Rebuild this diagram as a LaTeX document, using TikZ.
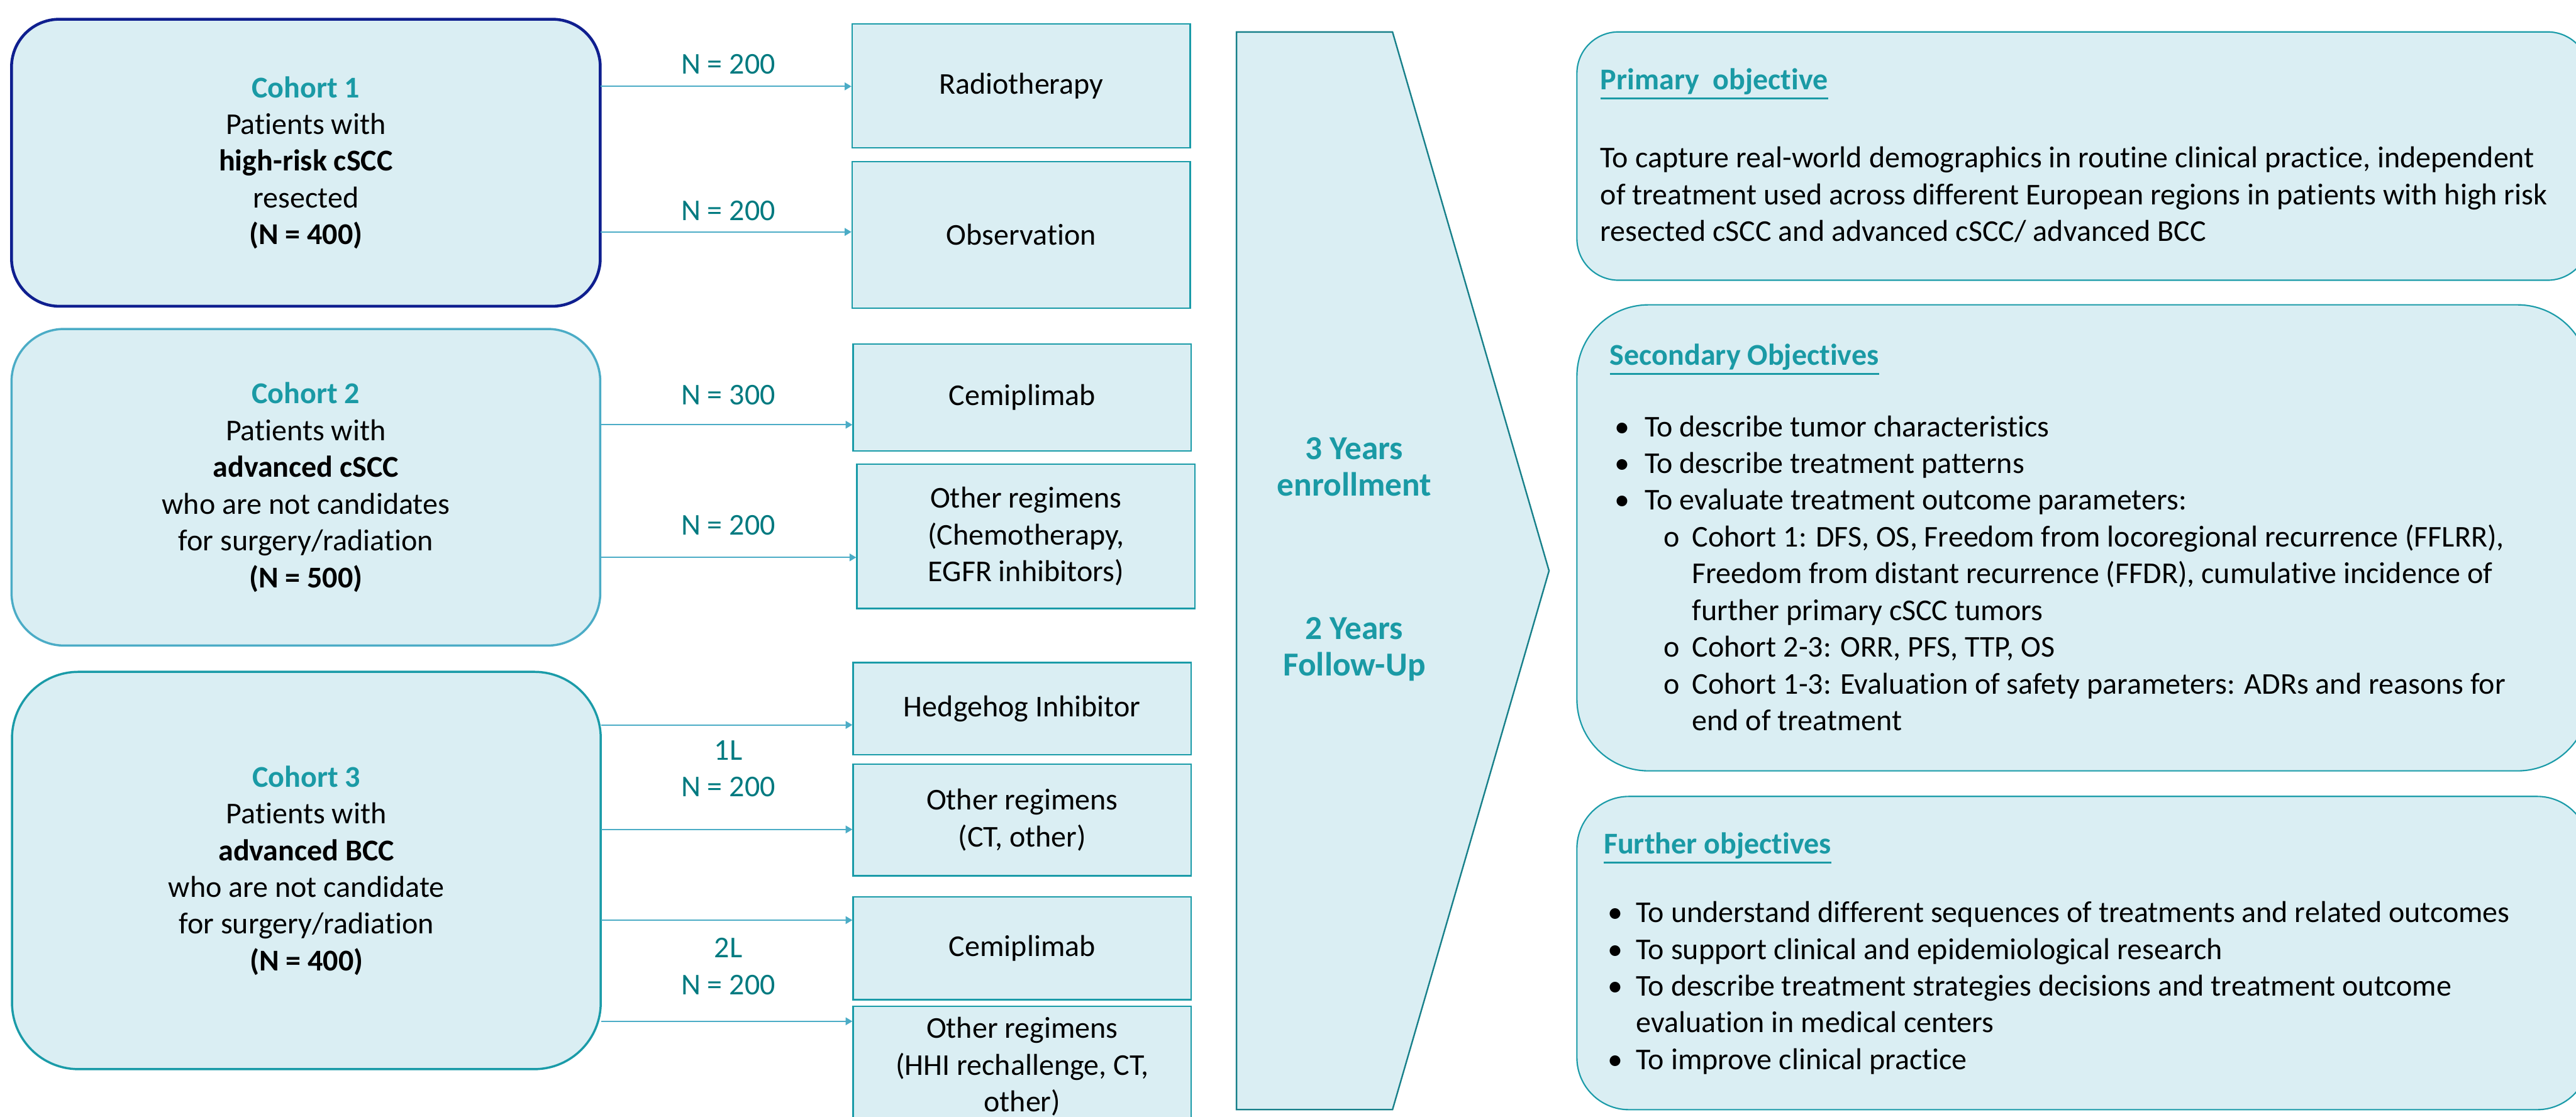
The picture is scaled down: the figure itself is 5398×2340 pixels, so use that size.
\documentclass[tikz,border=0pt]{standalone}
\usepackage{fontspec}
\setmainfont{Carlito}[Ligatures=NoCommon]
\usetikzlibrary{arrows.meta}
\definecolor{boxfill}{HTML}{DAEEF3}
\definecolor{navyline}{HTML}{0F1F8F}
\definecolor{skyline}{HTML}{4BACC6}
\definecolor{tealline}{HTML}{1A9BA8}
\definecolor{darkteal}{HTML}{17808A}
\definecolor{titleteal}{HTML}{1A9AA5}
\definecolor{nteal}{HTML}{007A80}
\tikzset{
  cohort/.style={draw, fill=boxfill, line width=1.3pt, rectangle, align=center, inner sep=0pt, minimum width=12.33cm},
  treat/.style={draw=tealline, fill=boxfill, line width=0.9pt, rectangle, align=center, inner sep=0pt, minimum width=7.08cm},
  objbox/.style={draw=tealline, fill=boxfill, line width=0.8pt, rectangle, inner sep=0pt, minimum width=21.2cm},
  nlabel/.style={text=nteal, align=center},
  arm/.style={-{Triangle[length=4pt,width=4.5pt]}, draw=skyline, line width=0.8pt},
  head/.style={text=titleteal, font=\bfseries, anchor=west, inner sep=0pt},
  body/.style={align=left, anchor=west, inner sep=0pt},
  phase/.style={text=titleteal, font=\fontsize{20}{21.6}\selectfont\bfseries, align=center},
}
\newcommand{\basefont}{\fontsize{18}{21.9}\selectfont}
\newcommand{\bul}[1]{\makebox[#1][l]{•}}
\newcommand{\sub}{\hspace*{1.03cm}\makebox[0.59cm][l]{o}}
\newcommand{\undl}[1]{\setbox0\hbox{#1}\rlap{\rule[-5.6pt]{\wd0}{1pt}}\box0}
\begin{document}
\basefont
\begin{tikzpicture}[x=0.01cm, y=-0.01cm]
\clip (0,0) rectangle (5398,2340);
% cohorts
\node[cohort, draw=navyline, line width=1.7pt, rounded corners=1cm, minimum height=6.01cm] (c1) at (641,341) {\textcolor{titleteal}{\textbf{Cohort 1}}\\Patients with\\\textbf{high-risk cSCC}\\resected\\\textbf{(N = 400)}};
\node[cohort, draw=skyline, rounded corners=1.1cm, minimum height=6.63cm] (c2) at (641,1021) {\textcolor{titleteal}{\textbf{Cohort 2}}\\Patients with\\\textbf{advanced cSCC}\\who are not candidates\\for surgery/radiation\\\textbf{(N = 500)}};
\node[cohort, draw=tealline, rounded corners=1.39cm, minimum height=8.32cm] (c3) at (642,1824) {\textcolor{titleteal}{\textbf{Cohort 3}}\\Patients with\\\textbf{advanced BCC}\\who are not candidate\\for surgery/radiation\\\textbf{(N = 400)}};
% treatments
\node[treat, minimum height=2.59cm] (t1) at (2140,180) {Radiotherapy};
\node[treat, minimum height=3.07cm] (t2) at (2140,492) {Observation};
\node[treat, minimum height=2.24cm] (t3) at (2142,833) {Cemiplimab};
\node[treat, minimum height=3.02cm] (t4) at (2150,1124) {Other regimens\\(Chemotherapy,\\EGFR inhibitors)};
\node[treat, minimum height=1.93cm] (t5) at (2142,1485) {Hedgehog Inhibitor};
\node[treat, minimum height=2.34cm] (t6) at (2142,1718) {Other regimens\\(CT, other)};
\node[treat, minimum height=2.15cm] (t7) at (2142,1987) {Cemiplimab};
\node[treat, minimum height=2.53cm] (t8) at (2142,2235) {Other regimens\\(HHI rechallenge, CT,\\other)};
% connectors
\coordinate (a1) at (1258,181);
\coordinate (a2) at (1258,486);
\coordinate (a3) at (1258,890);
\coordinate (a4) at (1258,1168);
\coordinate (a5) at (1260,1519);
\coordinate (a6) at (1260,1738);
\coordinate (a7) at (1260,1928);
\coordinate (a8) at (1260,2140);
\draw[arm] (a1) -- (a1 -| t1.west);
\draw[arm] (a2) -- (a2 -| t2.west);
\draw[arm] (a3) -- (a3 -| t3.west);
\draw[arm] (a4) -- (a4 -| t4.west);
\draw[arm] (a5) -- (a5 -| t5.west);
\draw[arm] (a6) -- (a6 -| t6.west);
\draw[arm] (a7) -- (a7 -| t7.west);
\draw[arm] (a8) -- (a8 -| t8.west);
\node[nlabel] (n1) at (1526,134) {N = 200};
\node[nlabel] (n2) at (1526,442) {N = 200};
\node[nlabel] (n3) at (1526,828) {N = 300};
\node[nlabel] (n4) at (1526,1100) {N = 200};
\node[nlabel] (n5) at (1526,1611) {1L\\N = 200};
\node[nlabel] (n6) at (1526,2025) {2L\\N = 200};
% timeline
\draw[draw=darkteal, fill=boxfill, line width=0.9pt] (2591,67) -- (2918,67) -- (3246,1196) -- (2918,2325) -- (2591,2325) -- cycle;
\node[phase] (enrol) at (2838,978) {3 Years\\enrollment};
\node[phase] (follow) at (2838,1360) {2 Years\\Follow-Up};
% objectives
\node[objbox, rounded corners=0.87cm, minimum height=5.2cm] (prim) at (4365,327) {};
\node[objbox, rounded corners=1.5cm, minimum height=9.76cm] (sec) at (4365,1127) {};
\node[objbox, rounded corners=1.09cm, minimum height=6.56cm] (fur) at (4365,1997) {};
\node[head] (primh) at (3353,176) {\undl{Primary\ \ objective}};
\node[body] (primb) at (3353,408) {To capture real-world demographics in routine clinical practice, independent\\of treatment used across different European regions in patients with high risk\\resected cSCC and advanced cSCC/ advanced BCC};
\node[head] (sech) at (3373,753) {\undl{Secondary Objectives}};
\node[body] (secb) at (3383,1201) {\bul{0.63cm}To describe tumor characteristics\\
\bul{0.63cm}To describe treatment patterns\\
\bul{0.63cm}To evaluate treatment outcome parameters:\\
\sub Cohort 1: DFS, OS, Freedom from locoregional recurrence (FFLRR),\\
\hspace*{1.62cm}Freedom from distant recurrence (FFDR), cumulative incidence of\\
\hspace*{1.62cm}further primary cSCC tumors\\
\sub Cohort 2-3: ORR, PFS, TTP, OS\\
\sub Cohort 1-3: Evaluation of safety parameters: ADRs and reasons for\\
\hspace*{1.62cm}end of treatment};
\node[head] (furh) at (3360,1777) {\undl{Further objectives}};
\node[body] (furb) at (3369,2070) {\bul{0.59cm}To understand different sequences of treatments and related outcomes\\
\bul{0.59cm}To support clinical and epidemiological research\\
\bul{0.59cm}To describe treatment strategies decisions and treatment outcome\\
\hspace*{0.59cm}evaluation in medical centers\\
\bul{0.59cm}To improve clinical practice};
\end{tikzpicture}
\end{document}
